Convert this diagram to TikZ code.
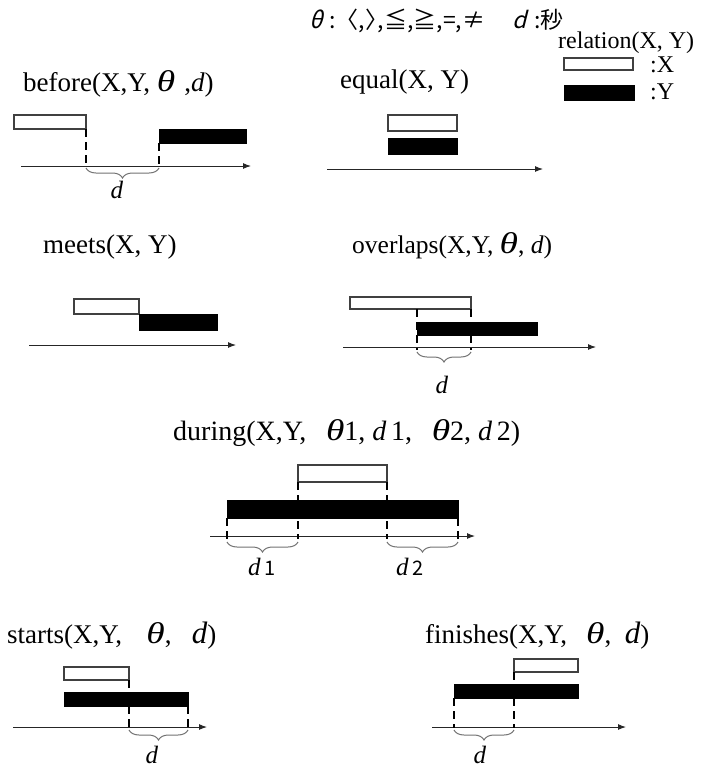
\documentclass[tikz,border=0pt]{standalone}
\usepackage{fontspec}
\setmainfont{Liberation Serif}
\newfontfamily\jpfont{Noto Sans CJK JP}
\newfontfamily\jpslant[FakeSlant=0.25]{Noto Sans CJK JP}
\usetikzlibrary{positioning,arrows.meta,decorations.pathreplacing,calc}
\tikzset{
  xbar/.style={rectangle,draw=black!75,fill=white,line width=1.3pt,inner sep=0pt,outer sep=0pt},
  ybar/.style={rectangle,draw=black,fill=black,line width=0.5pt,inner sep=0pt,outer sep=0pt},
  axis/.style={-{Latex[length=8pt,width=6pt]},line width=1pt,draw=black!85},
  guide/.style={line width=2.4pt,dash pattern=on 8pt off 5pt},
  span/.style={decorate,decoration={brace,mirror,amplitude=10pt,aspect=0.5},draw=black!55,line width=1pt},
  ttl/.style={anchor=base west,inner sep=0pt,font=\fontsize{27}{30}\selectfont},
  dlbl/.style={inner sep=0pt,font=\fontsize{25}{28}\selectfont},
}
% one interval bar: style, name, x1, x2, y1, y2
\newcommand{\ivl}[6]{%
  \node[#1,minimum width={(#4-#3)*1pt},minimum height={(#6-#5)*1pt}] (#2) at ({(#3+#4)/2},{(#5+#6)/2}) {};}
\newcommand{\sub}[1]{\,{\jpfont\fontsize{20}{24}\selectfont #1}}
\newcommand{\thet}{\scalebox{1.25}[1]{\fontsize{30}{30}\selectfont\itshape θ}}
\newcommand{\bigd}{{\fontsize{31}{30}\selectfont\itshape d}}

\begin{document}
\begin{tikzpicture}[x=1pt,y=-1pt]
  \fill[white] (0,0) rectangle (715,769);
  \useasboundingbox (0,0) rectangle (715,769);
  % key
  \node[anchor=base west,inner sep=0pt,font=\jpfont\fontsize{23}{26}\selectfont] (key) at (309,28)
    {{\jpslant θ}\hspace{0.3em}:〈,〉\kern-0.45em,≦,≧,=,≠\hspace{1.2em}{\jpslant d}\hspace{0.3em}:秒};
  \node[anchor=base west,inner sep=0pt,font=\fontsize{24}{28}\selectfont] (rel) at (558,48) {relation(X, Y)};
  \ivl{xbar}{kx}{564}{633}{58}{70}
  \ivl{ybar}{ky}{564}{634}{85}{100}
  \node[anchor=base west,inner sep=0pt,font=\fontsize{24}{28}\selectfont] (kxl) at (650,72) {:X};
  \node[anchor=base west,inner sep=0pt,font=\fontsize{24}{28}\selectfont] (kyl) at (650,99) {:Y};
  % before
  \node[ttl] (tbefore) at (23,91) {before(X,Y, \thet\,\,,\textit{d})};
  \ivl{xbar}{bx}{14}{86}{115}{129}
  \ivl{ybar}{by}{159}{246}{129}{143}
  \coordinate (ba0) at (21,166);
  \coordinate (ba1) at (251,166);
  \draw[axis] (ba0) -- (ba1);
  \coordinate (bd0) at (bx.south east |- ba0);
  \coordinate (bd1) at (by.south west |- ba0);
  \draw[guide] (bx.south east) -- (bd0);
  \draw[guide] (by.south west) -- (bd1);
  \draw[span] ([yshift=-2pt]bd0) -- ([yshift=-2pt]bd1);
  \node[dlbl] (bd) at (117,190) {\textit{d}};
  % equal
  \node[ttl] (tequal) at (340,88) {equal(X, Y)};
  \ivl{xbar}{ex}{388}{457}{115}{131}
  \ivl{ybar}{ey}{388}{457}{138}{154}
  \coordinate (ea0) at (327,169);
  \coordinate (ea1) at (543,169);
  \draw[axis] (ea0) -- (ea1);
  % meets
  \node[ttl] (tmeets) at (43,253) {meets(X, Y)};
  \ivl{xbar}{mx}{74}{139}{299}{314}
  \ivl{ybar}{my}{139}{217}{314}{330}
  \coordinate (ma0) at (29,345);
  \coordinate (ma1) at (236,345);
  \draw[axis] (ma0) -- (ma1);
  % overlaps
  \node[ttl,font=\fontsize{25.5}{30}\selectfont] (toverlaps) at (352,253) {overlaps(X,Y, \thet, \textit{d})};
  \ivl{xbar}{ox}{350}{471}{297}{309}
  \ivl{ybar}{oy}{417}{537}{322}{335}
  \coordinate (oa0) at (343,347);
  \coordinate (oa1) at (596,347);
  \draw[axis] (oa0) -- (oa1);
  \coordinate (od0) at (oy.west |- oa0);
  \coordinate (od1) at (ox.south east |- oa0);
  \draw[guide] (ox.south -| oy.west) -- ([yshift=-3pt]od0);
  \draw[guide] (ox.south east) -- ([yshift=-3pt]od1);
  \draw[span] ([yshift=-5pt]od0) -- ([yshift=-5pt]od1);
  \node[dlbl] (odl) at (442,385) {\textit{d}};
  % during
  \node[ttl,font=\fontsize{28}{30}\selectfont] (tduring) at (173,440)
    {during(X,Y,\hspace{0.7em}\thet1, \textit{d}\,1,\hspace{0.7em}\thet2, \textit{d}\,2)};
  \ivl{xbar}{dx}{298}{387}{465}{482}
  \ivl{ybar}{dy}{227}{458}{500}{518}
  \coordinate (da0) at (210,536);
  \coordinate (da1) at (475,536);
  \draw[axis] (da0) -- (da1);
  \coordinate (dd0) at (dy.south west |- da0);
  \coordinate (dd1) at (dx.south west |- da0);
  \coordinate (dd2) at (dx.south east |- da0);
  \coordinate (dd3) at (dy.south east |- da0);
  \draw[guide] (dy.south west) -- ([yshift=-3pt]dd0);
  \draw[guide] (dx.south west) -- ([yshift=-3pt]dd1);
  \draw[guide] (dx.south east) -- ([yshift=-3pt]dd2);
  \draw[guide] (dy.south east) -- ([yshift=-3pt]dd3);
  \draw[span] ([yshift=-6pt]dd0) -- ([yshift=-6pt]dd1);
  \draw[span] ([yshift=-6pt]dd2) -- ([yshift=-6pt]dd3);
  \node[dlbl] (ddl1) at (262,567) {\textit{d}\sub{1}};
  \node[dlbl] (ddl2) at (410,567) {\textit{d}\sub{2}};
  % starts
  \node[ttl] (tstarts) at (7,643) {starts(X,Y,\hspace{0.9em}\thet,\hspace{0.75em}\bigd)};
  \ivl{xbar}{sx}{64}{129}{667}{680}
  \ivl{ybar}{sy}{64}{188}{692}{706}
  \coordinate (sa0) at (13,727);
  \coordinate (sa1) at (207,727);
  \draw[axis] (sa0) -- (sa1);
  \coordinate (sd0) at (sx.south east |- sa0);
  \coordinate (sd1) at (sy.south east |- sa0);
  \draw[guide] (sx.south east) -- ([yshift=-1pt]sd0);
  \draw[guide] (sy.south east) -- ([yshift=-1pt]sd1);
  \draw[span] ([yshift=-3pt]sd0) -- ([yshift=-3pt]sd1);
  \node[dlbl] (sdl) at (152,755) {\textit{d}};
  % finishes
  \node[ttl] (tfinishes) at (425,643) {finishes(X,Y,\hspace{0.7em}\thet,\hspace{0.5em}\bigd)};
  \ivl{xbar}{fx}{514}{578}{659}{672}
  \ivl{ybar}{fy}{454}{578}{684}{698}
  \coordinate (fa0) at (432,727);
  \coordinate (fa1) at (626,727);
  \draw[axis] (fa0) -- (fa1);
  \coordinate (fd0) at (fy.south west |- fa0);
  \coordinate (fd1) at (fx.south west |- fa0);
  \draw[guide] (fy.south west) -- ([yshift=-1pt]fd0);
  \draw[guide] (fx.south west) -- ([yshift=-1pt]fd1);
  \draw[span] ([yshift=-3pt]fd0) -- ([yshift=-3pt]fd1);
  \node[dlbl] (fdl) at (480,755) {\textit{d}};
\end{tikzpicture}
\end{document}
